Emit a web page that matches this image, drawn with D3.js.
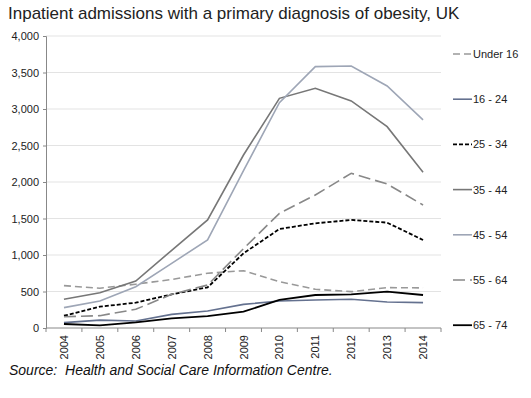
<!DOCTYPE html>
<html>
<head>
<meta charset="utf-8">
<script src="https://cdn.jsdelivr.net/npm/d3@7"></script>
<style>
  body { margin: 0; background: #fff; font-family: "Liberation Sans", Arial, sans-serif; }
</style>
</head>
<body>
<div id="viz"></div>
<script>
const width = 531;
const height = 398;
const margin = {top: 36, right: 90, bottom: 70, left: 46};

// Data
const years = ['2004', '2005', '2006', '2007', '2008', '2009', '2010', '2011', '2012', '2013', '2014'];
const under16 = [580, 545, 600, 665, 750, 785, 635, 530, 498, 553, 550];
const age16to24 = [73, 108, 96, 187, 233, 324, 370, 384, 393, 356, 347];
const age25to34 = [168, 292, 347, 461, 557, 1023, 1356, 1434, 1480, 1443, 1206];
const age35to44 = [393, 484, 644, 1064, 1480, 2370, 3146, 3283, 3110, 2758, 2133];
const age45to54 = [279, 370, 566, 886, 1206, 2155, 3087, 3580, 3589, 3315, 2850];
const age55to64 = [155, 169, 256, 461, 589, 1087, 1571, 1822, 2119, 1973, 1685];
const age65to74 = [55, 37, 78, 132, 164, 224, 384, 452, 461, 498, 452];
const yTicks = [0, 500, 1000, 1500, 2000, 2500, 3000, 3500, 4000];

const series = [
  {name: 'Under 16', values: under16, color: '#999999', dash: '7,4', w: 1.6},
  {name: '16 - 24', values: age16to24, color: '#64718f', dash: null, w: 1.6},
  {name: '25 - 34', values: age25to34, color: '#000000', dash: '4,2', w: 1.8},
  {name: '35 - 44', values: age35to44, color: '#777777', dash: null, w: 1.6},
  {name: '45 - 54', values: age45to54, color: '#9ea6b6', dash: null, w: 1.6},
  {name: '55 - 64', values: age55to64, color: '#888888', dash: '12,5', w: 1.6},
  {name: '65 - 74', values: age65to74, color: '#000000', dash: null, w: 1.8}
];

const svg = d3.select('#viz')
  .append('svg')
    .attr('width', width)
    .attr('height', height);

const plotRight = 441;
const plotBottom = 328;

// Scales
const xScale = d3.scaleBand()
  .domain(years)
  .range([margin.left, plotRight]);
const yScale = d3.scaleLinear()
  .domain([0, 4000])
  .range([plotBottom, margin.top]);

// Gridlines
svg.append('g')
  .selectAll('line')
  .data(yTicks.filter(d => d > 0))
  .join('line')
    .attr('x1', margin.left)
    .attr('x2', plotRight)
    .attr('y1', d => yScale(d))
    .attr('y2', d => yScale(d))
    .attr('stroke', '#e3e3e3')
    .attr('stroke-width', 1);

// y axis
const yAxis = d3.axisLeft(yScale)
  .tickValues(yTicks)
  .tickFormat(d3.format(','))
  .tickSize(3)
  .tickPadding(4);
const yAxisGroup = svg.append('g')
  .attr('transform', `translate(${margin.left}, 0)`)
  .style('font-size', '11px')
  .style('font-family', '"Liberation Sans", Arial, sans-serif')
  .call(yAxis);
yAxisGroup.select('.domain').attr('stroke', '#888');
yAxisGroup.selectAll('.tick line').attr('stroke', '#888');
yAxisGroup.selectAll('.tick text').attr('fill', '#222');

// x axis (ticks between categories)
const xAxisGroup = svg.append('g')
  .attr('transform', `translate(0, ${plotBottom})`);
xAxisGroup.append('line')
  .attr('x1', margin.left)
  .attr('x2', plotRight)
  .attr('stroke', '#888');
xAxisGroup.selectAll('.xtick')
  .data(years.concat(['end']))
  .join('line')
    .attr('x1', (d, i) => margin.left + i * xScale.step())
    .attr('x2', (d, i) => margin.left + i * xScale.step())
    .attr('y1', 0)
    .attr('y2', 4)
    .attr('stroke', '#888');
xAxisGroup.selectAll('text')
  .data(years)
  .join('text')
    .attr('transform', d => `translate(${xScale(d) + xScale.bandwidth() / 2 + 4}, 7) rotate(-90)`)
    .attr('text-anchor', 'end')
    .style('font-size', '11px')
    .attr('fill', '#222')
    .text(d => d);

// Lines
const line = d3.line()
  .x((d, i) => xScale(years[i]) + xScale.bandwidth() / 2)
  .y(d => yScale(d));

svg.append('g')
  .selectAll('path')
  .data(series)
  .join('path')
    .attr('d', d => line(d.values))
    .attr('fill', 'none')
    .attr('stroke', d => d.color)
    .attr('stroke-width', d => d.w)
    .attr('stroke-dasharray', d => d.dash);

// Legend
const legend = svg.append('g')
  .selectAll('g')
  .data(series)
  .join('g')
    .attr('transform', (d, i) => `translate(453, ${54 + i * 45.2})`);
legend.append('line')
  .attr('x1', 0)
  .attr('x2', 19)
  .attr('stroke', d => d.color)
  .attr('stroke-width', d => d.w)
  .attr('stroke-dasharray', d => d.dash);
legend.append('text')
  .attr('x', 20)
  .attr('y', 4)
  .style('font-size', '11px')
  .attr('fill', '#222')
  .text(d => d.name);

// Title
svg.append('text')
  .attr('x', 8)
  .attr('y', 19)
  .style('font-size', '17px')
  .attr('fill', '#222')
  .text('Inpatient admissions with a primary diagnosis of obesity, UK');

// Source
svg.append('text')
  .attr('x', 9)
  .attr('y', 375)
  .style('font-size', '14px')
  .style('font-style', 'italic')
  .style('white-space', 'pre')
  .attr('fill', '#111')
  .text('Source:  Health and Social Care Information Centre.');
</script>
</body>
</html>
